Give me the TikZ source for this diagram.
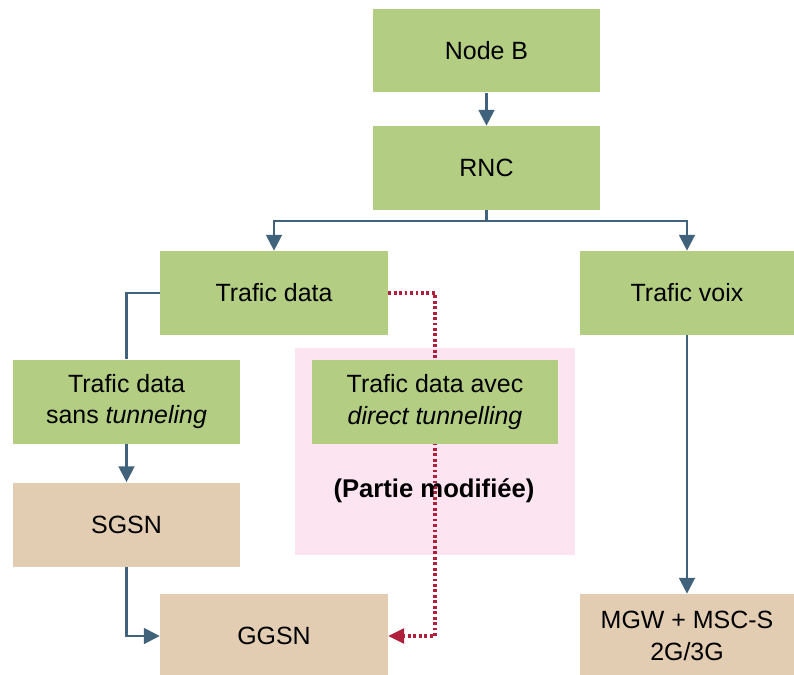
\documentclass[tikz,border=0pt]{standalone}
\usepackage{fontspec}
\setmainfont{Liberation Sans}
\usetikzlibrary{arrows.meta}
\definecolor{boxgreen}{RGB}{179,205,131}
\definecolor{boxtan}{RGB}{226,204,178}
\definecolor{zonepink}{RGB}{252,229,240}
\definecolor{linkblue}{RGB}{64,98,122}
\definecolor{linkred}{RGB}{176,32,60}

\begin{document}
\begin{tikzpicture}[
    x=0.02cm, y=-0.02cm,
    font=\fontsize{14.2}{18}\selectfont,
    box/.style={%
      rectangle,
      align=center,
      inner sep=0pt,
      minimum width=4.56cm,
      minimum height=1.68cm,
    },
    greenbox/.style={box, fill=boxgreen},
    tanbox/.style={box, fill=boxtan},
    link/.style={%
      draw=linkblue,
      line width=1.3pt,
    },
    modlink/.style={%
      draw=linkred,
      line width=1.9pt,
      dash pattern=on 1.6pt off 1.5pt,
    },
    tip/.style={-{Triangle[width=9pt,length=9pt]}},
  ]
    \useasboundingbox (0,0) rectangle (794,674);

    % zone of the modified part
    \node [fill=zonepink, minimum width=5.6cm, minimum height=4.14cm, inner sep=0pt]
      (zone) at (435,451.5) {};

    \node [greenbox] (nodeB) at (486.5,50.5) {Node B};
    \node [greenbox] (rnc) at (486.5,168) {RNC};
    \node [greenbox] (data) at (274,293) {Trafic data};
    \node [greenbox, minimum width=4.28cm] (voix) at (687,293) {Trafic voix};
    \node [greenbox] (sans) at (126.5,401.5) {Trafic data\\sans \textit{tunneling}};
    \node [tanbox] (sgsn) at (126.5,524.5) {SGSN};
    \node [tanbox] (ggsn) at (274,636) {GGSN};
    \node [tanbox, minimum width=4.28cm] (mgw) at (687,636) {MGW + MSC-S\\2G/3G};

    % direct tunnelling path
    \draw [modlink, -{Triangle[width=9pt,length=9pt,line width=0pt]}]
      (data.east) -- (zone.north |- data.east) -- (zone.north |- ggsn.east) -- (ggsn.east);

    \node [greenbox, minimum width=4.92cm] (avec) at (435,402) {Trafic data avec\\\textit{direct tunnelling}};
    \node [font=\fontsize{14.6}{18}\selectfont\bfseries] (partie) at (434,491) {(Partie modifiée)};

    \draw [link, tip] (nodeB) -- (rnc);
    \draw [link, tip] (rnc.south) -- ++(0,11) -| (data.north);
    \draw [link, tip] (rnc.south) -- ++(0,11) -| (voix.north);
    \draw [link] (data.west) -| (sans.north);
    \draw [link, tip] (sans) -- (sgsn);
    \draw [link, tip] (sgsn.south) |- (ggsn.west);
    \draw [link, tip] (voix) -- (mgw);
\end{tikzpicture}
\end{document}
